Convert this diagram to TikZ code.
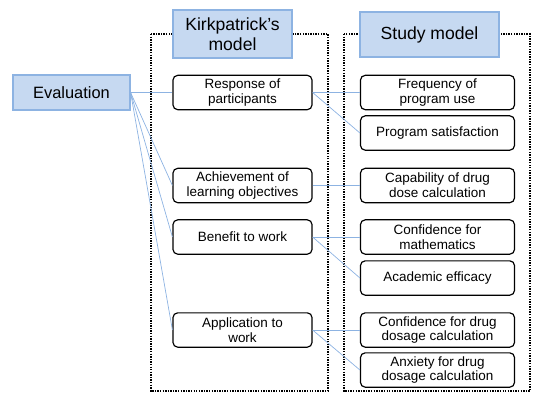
\documentclass[tikz,border=0pt]{standalone}
\usepackage{fontspec}
\setmainfont{Liberation Sans}
\usetikzlibrary{positioning}
\definecolor{headfill}{HTML}{C6D9F1}
\definecolor{headline}{HTML}{8DB3E2}
\definecolor{linkblue}{HTML}{8DB3E2}

\begin{document}
\begin{tikzpicture}[x=0.03cm,y=-0.03cm,
    head/.style={draw=headline,fill=headfill,line width=1pt,inner sep=0pt,align=center,font=\fontsize{15}{17}\selectfont},
    item/.style={draw,rounded corners=4pt,line width=1pt,inner sep=0pt,align=center,minimum height=1.03cm,font=\fontsize{11.5}{12.5}\selectfont},
    kbox/.style={item,minimum width=4.17cm},
    sbox/.style={item,minimum width=4.62cm},
    link/.style={draw=linkblue,line width=0.6pt},
    frame/.style={densely dotted,line width=1.2pt}]
  \useasboundingbox (0,0) rectangle (533,393);
  % dotted frames
  \draw[frame] (151,34) rectangle (328,391);
  \draw[frame] (344,34) rectangle (530,391);
  % headers
  \node [head,minimum width=3.51cm,minimum height=1.05cm,font=\fontsize{14}{16}\selectfont] (eval) at (71.5,92.5) {Evaluation};
  \node [head,minimum width=3.57cm,minimum height=1.44cm] (kirk) at (232.5,34) {Kirkpatrick’s\\model};
  \node [head,minimum width=4.17cm,minimum height=1.35cm] (study) at (429.5,34.5) {Study model};
  % Kirkpatrick levels
  \node [kbox] (resp) at (242.5,92.5) {Response of\\participants};
  \node [kbox] (achv) at (242.5,185.5) {Achievement of\\learning objectives};
  \node [kbox] (bene) at (242.5,237) {Benefit to work};
  \node [kbox] (appl) at (242.5,330) {Application to\\work};
  % study variables
  \node [sbox] (freq) at (437.5,92.5) {Frequency of\\program use};
  \node [sbox] (satis) at (437.5,133) {Program satisfaction};
  \node [sbox] (capa) at (437.5,185.5) {Capability of drug\\dose calculation};
  \node [sbox] (math) at (437.5,237) {Confidence for\\mathematics};
  \node [sbox] (acad) at (437.5,278) {Academic efficacy};
  \node [sbox] (conf) at (437.5,330) {Confidence for drug\\dosage calculation};
  \node [sbox] (anx) at (437.5,370) {Anxiety for drug\\dosage calculation};
  \path[link]
  (eval.east) edge (resp.west)
              edge (achv.west)
              edge (bene.west)
              edge (appl.west)
  (resp.east) edge (freq.west)
              edge (satis.west)
  (achv.east) edge (capa.west)
  (bene.east) edge (math.west)
              edge (acad.west)
  (appl.east) edge (conf.west)
              edge (anx.west);
\end{tikzpicture}
\end{document}
